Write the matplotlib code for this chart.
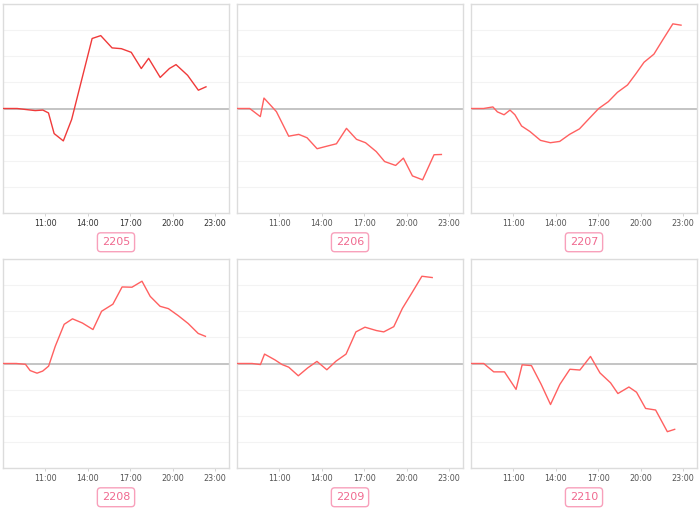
import matplotlib
matplotlib.use("Agg")
import matplotlib.pyplot as plt

# contract codes for the six small panels
contracts = ["2205", "2206", "2207", "2208", "2209", "2210"]

# time in hours and % change per contract
t_2205 = [8.0, 9.0, 10.28, 10.82, 11.22, 11.62, 12.27, 12.86, 14.31, 14.92, 15.72, 16.38,
          17.08, 17.79, 18.31, 19.13, 19.78, 20.25, 21.07, 21.83, 22.37]
v_2205 = [0, 0, -0.08, -0.06, -0.17, -0.96, -1.24, -0.42, 2.68, 2.79, 2.32, 2.29,
          2.15, 1.53, 1.92, 1.19, 1.53, 1.68, 1.27, 0.70, 0.83]

t_2206 = [8.0, 8.9, 9.65, 9.91, 10.79, 11.66, 12.37, 12.96, 13.67, 14.38, 15.04, 15.75,
          16.46, 17.1, 17.86, 18.45, 19.23, 19.78, 20.42, 21.14, 21.95, 22.47]
v_2206 = [0, 0, -0.31, 0.40, -0.12, -1.06, -0.99, -1.12, -1.54, -1.44, -1.35, -0.76,
          -1.18, -1.31, -1.65, -2.03, -2.18, -1.90, -2.58, -2.73, -1.77, -1.76]

t_2207 = [8.0, 8.89, 9.55, 9.87, 10.34, 10.76, 11.11, 11.58, 12.17, 12.92, 13.62, 14.28,
          14.98, 15.68, 16.39, 17.04, 17.72, 18.37, 19.08, 19.66, 20.25, 20.95, 21.59,
          22.29, 22.87]
v_2207 = [0, 0, 0.06, -0.13, -0.24, -0.06, -0.24, -0.67, -0.88, -1.22, -1.31, -1.26,
          -0.99, -0.78, -0.37, 0, 0.26, 0.62, 0.90, 1.32, 1.77, 2.08, 2.64, 3.24, 3.19]

t_2208 = [8.0, 8.94, 9.59, 9.92, 10.41, 10.81, 11.23, 11.70, 12.33, 12.92, 13.62, 14.37,
          14.98, 15.78, 16.43, 17.13, 17.84, 18.42, 19.12, 19.71, 20.41, 21.11, 21.82, 22.33]
v_2208 = [0, 0, -0.03, -0.27, -0.37, -0.29, -0.10, 0.66, 1.50, 1.71, 1.55, 1.30,
          2.00, 2.27, 2.93, 2.92, 3.15, 2.57, 2.19, 2.10, 1.83, 1.53, 1.15, 1.04]

t_2209 = [8.0, 9.07, 9.66, 9.95, 10.68, 11.19, 11.66, 12.34, 13.0, 13.66, 14.36, 15.01,
          15.72, 16.42, 17.06, 17.88, 18.39, 19.10, 19.71, 20.39, 21.09, 21.82]
v_2209 = [0, 0, -0.04, 0.36, 0.14, -0.04, -0.14, -0.47, -0.17, 0.08, -0.24, 0.09,
          0.36, 1.21, 1.39, 1.26, 1.21, 1.41, 2.11, 2.71, 3.34, 3.29]

t_2210 = [8.0, 8.9, 9.61, 10.37, 11.19, 11.62, 12.28, 12.97, 13.63, 14.29, 15.0, 15.71,
          16.46, 17.13, 17.88, 18.40, 19.18, 19.72, 20.36, 21.07, 21.90, 22.42]
v_2210 = [0, 0, -0.32, -0.32, -0.99, -0.05, -0.08, -0.80, -1.57, -0.80, -0.22, -0.25,
          0.27, -0.36, -0.74, -1.15, -0.90, -1.10, -1.72, -1.78, -2.61, -2.52]

times = [t_2205, t_2206, t_2207, t_2208, t_2209, t_2210]
values = [v_2205, v_2206, v_2207, v_2208, v_2209, v_2210]

tick_hours = [11, 14, 17, 20, 23]
tick_labels = ["11:00", "14:00", "17:00", "20:00", "23:00"]

W, H = 700, 512
fig = plt.figure(figsize=(7, 5.12), dpi=100)

col_left = [3, 237, 471]
row_top = [4, 259]
pw, ph = 226, 209

for i, code in enumerate(contracts):
    r, c = divmod(i, 3)
    x0 = col_left[c]
    y0 = row_top[r]
    ax = fig.add_axes([x0 / W, 1 - (y0 + ph) / H, pw / W, ph / H])
    ax.set_xlim(8, 24)
    ax.set_ylim(-4, 4)
    ax.set_yticks(range(-4, 5))
    ax.yaxis.grid(True, color="#f3f3f3", lw=0.8)
    ax.tick_params(axis="y", left=False, labelleft=False)
    ax.axhline(0, color="#c4c4c4", lw=1.4, zorder=2)
    col = "#f03a3a" if i == 0 else "#ff6060"
    ax.plot(times[i], values[i], color=col, lw=1.0, zorder=3)
    ax.set_xticks(tick_hours)
    ax.set_xticklabels(tick_labels, fontsize=5.8,
                       color="#333333" if i == 0 else "#555555")
    ax.tick_params(axis="x", length=2.5, width=0.6, color="#cccccc", pad=2)
    for s in ax.spines.values():
        s.set_color("#dcdcdc")
        s.set_linewidth(1.0)
    ax.set_axisbelow(True)
    ax.text(0.5, -0.14, code, transform=ax.transAxes, ha="center", va="center",
            fontsize=8, color="#f06a90",
            bbox=dict(boxstyle="round,pad=0.4,rounding_size=0.3",
                      fc="white", ec="#f8a0bb", lw=1.0))

fig.savefig("out.png", dpi=100)
